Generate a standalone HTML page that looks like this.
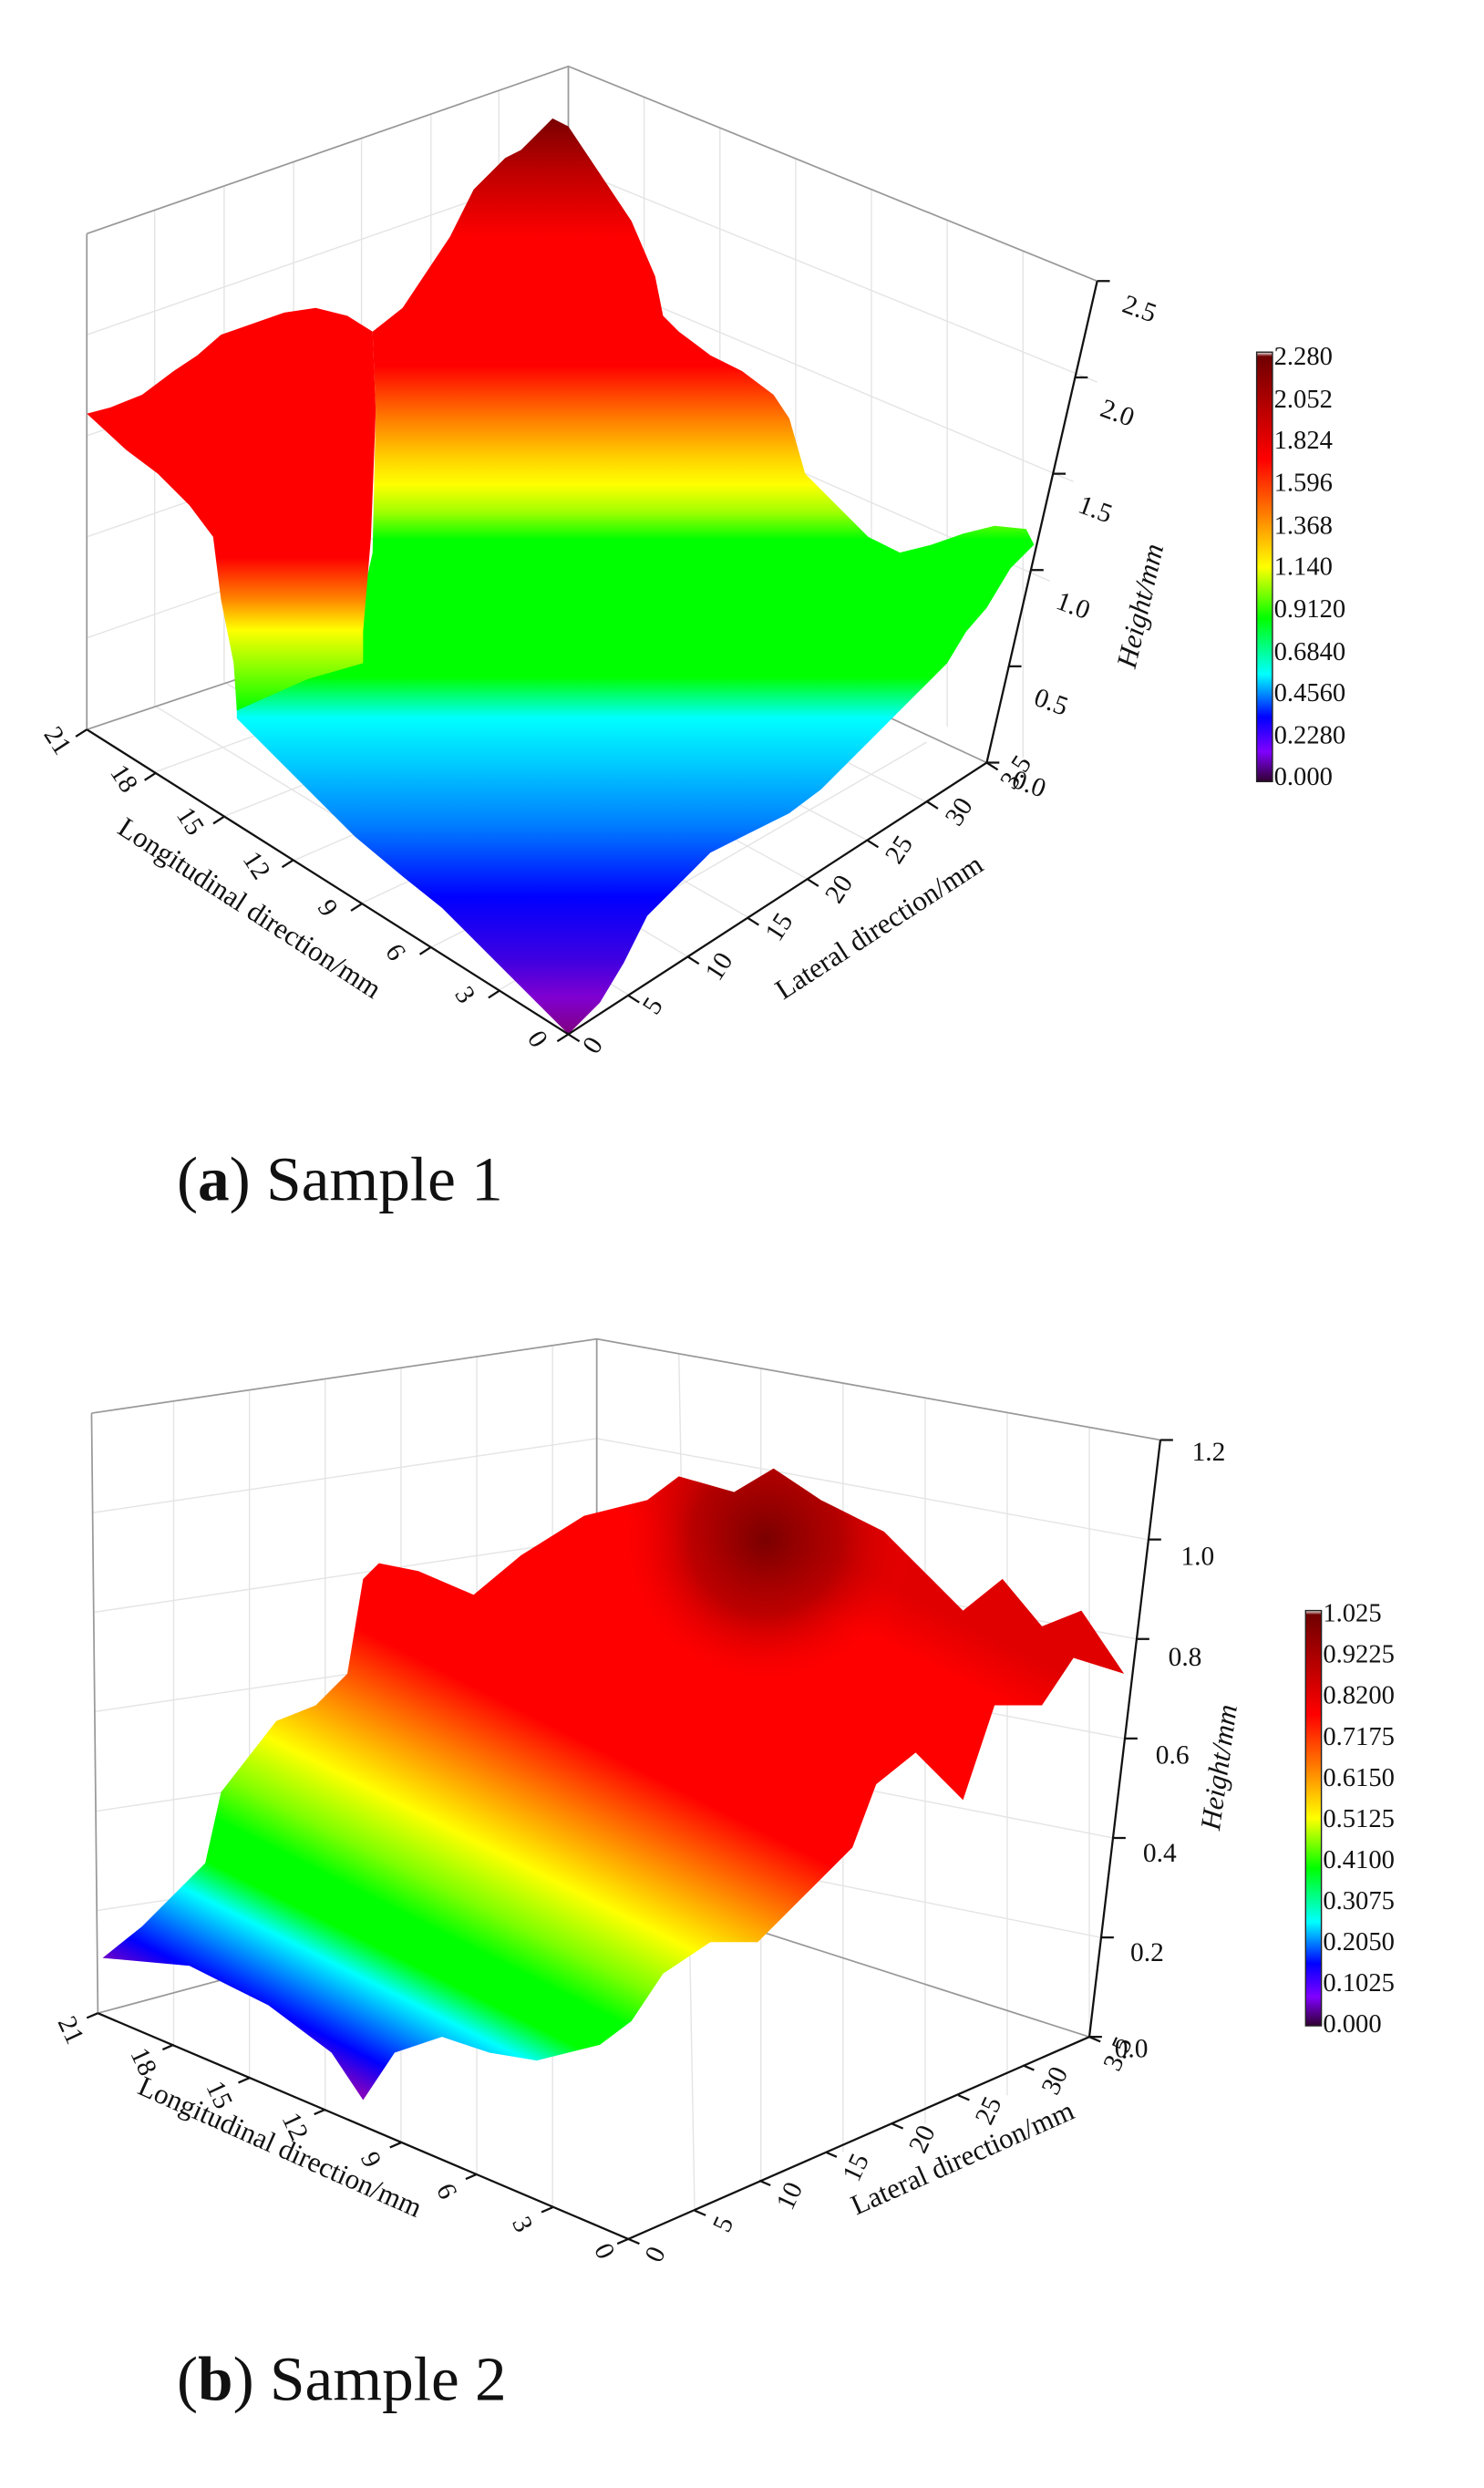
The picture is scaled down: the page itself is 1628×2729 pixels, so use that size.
<!DOCTYPE html>
<html><head><meta charset="utf-8"><style>
html,body{margin:0;padding:0;background:#fff;}
svg{display:block;}
text{font-family:"Liberation Serif",serif;fill:#111;}
</style></head><body>
<svg width="1628" height="2729" viewBox="0 0 940 1575.7" xmlns="http://www.w3.org/2000/svg">
<defs>
<linearGradient id="ga" gradientUnits="userSpaceOnUse" x1="0" y1="75" x2="0" y2="655">
<stop offset="0" stop-color="#7a0000"/><stop offset="0.06" stop-color="#c00000"/><stop offset="0.13" stop-color="#ff0000"/>
<stop offset="0.27" stop-color="#ff0000"/><stop offset="0.33" stop-color="#ff8000"/><stop offset="0.37" stop-color="#ffd000"/>
<stop offset="0.40" stop-color="#ffff00"/><stop offset="0.43" stop-color="#a0ff00"/><stop offset="0.46" stop-color="#00ff00"/>
<stop offset="0.61" stop-color="#00ff00"/><stop offset="0.655" stop-color="#00ffff"/><stop offset="0.70" stop-color="#00d0ff"/>
<stop offset="0.77" stop-color="#0080ff"/><stop offset="0.85" stop-color="#0000ff"/><stop offset="0.92" stop-color="#4000e0"/>
<stop offset="0.96" stop-color="#8000d0"/><stop offset="1" stop-color="#800080"/>
</linearGradient>
<linearGradient id="gl" gradientUnits="userSpaceOnUse" x1="0" y1="195" x2="0" y2="450">
<stop offset="0" stop-color="#ff0000"/><stop offset="0.62" stop-color="#ff0000"/><stop offset="0.72" stop-color="#ff8000"/>
<stop offset="0.8" stop-color="#ffff00"/><stop offset="0.9" stop-color="#80ff00"/><stop offset="1" stop-color="#00ff00"/>
</linearGradient>
<linearGradient id="gb" gradientUnits="userSpaceOnUse" x1="300" y1="872" x2="104" y2="1263">
<stop offset="0" stop-color="#e00000"/><stop offset="0.08" stop-color="#ff0000"/>
<stop offset="0.4" stop-color="#ff0000"/><stop offset="0.5" stop-color="#ff8000"/><stop offset="0.6" stop-color="#ffff00"/>
<stop offset="0.68" stop-color="#80ff00"/><stop offset="0.74" stop-color="#00ff00"/><stop offset="0.8" stop-color="#00ff00"/>
<stop offset="0.85" stop-color="#00ffff"/><stop offset="0.9" stop-color="#0080ff"/><stop offset="0.95" stop-color="#0000ff"/>
<stop offset="1" stop-color="#8000c0"/>
</linearGradient>
<radialGradient id="rb" gradientUnits="userSpaceOnUse" cx="485" cy="975" r="95">
<stop offset="0" stop-color="#7a0000" stop-opacity="1"/><stop offset="0.5" stop-color="#a00000" stop-opacity="0.7"/><stop offset="1" stop-color="#ff0000" stop-opacity="0"/>
</radialGradient>
<clipPath id="cpb"><polygon points="65,1240 90,1220 130,1180 140,1135 175,1090 200,1080 220,1060 230,1000 240,990 265,995 300,1010 330,985 370,960 410,950 430,935 465,945 490,930 520,950 560,970 590,1000 610,1020 635,1000 660,1030 685,1020 712,1060 680,1050 660,1080 630,1080 610,1140 580,1110 555,1130 540,1170 510,1200 480,1230 450,1230 420,1250 400,1280 380,1295 340,1305 310,1300 280,1290 250,1300 230,1330 210,1300 170,1270 120,1245"/></clipPath>
<linearGradient id="cb" x1="0" y1="0" x2="0" y2="1">
<stop offset="0" stop-color="#f0f0f0"/><stop offset="0.01" stop-color="#700000"/><stop offset="0.25" stop-color="#ff0000"/>
<stop offset="0.38" stop-color="#ff8000"/><stop offset="0.5" stop-color="#ffff00"/><stop offset="0.62" stop-color="#00ff00"/>
<stop offset="0.75" stop-color="#00ffff"/><stop offset="0.85" stop-color="#0000ff"/><stop offset="0.93" stop-color="#8000ff"/>
<stop offset="1" stop-color="#300030"/>
</linearGradient>
</defs>

<!-- ===== Plot A ===== -->
<g stroke="#e4e4e4" stroke-width="0.8" fill="none">
<path d="M55,212 L360,106 M55,276 L360,170 M55,340 L360,234 M55,404 L360,298"/>
<path d="M360,106 L695,242 M360,170 L680,305 M360,234 L665,368"/>
<path d="M98,133 L98,447 M142,118 L142,432 M186,103 L186,417 M229,88 L229,402 M273,72 L273,387 M316,57 L316,372"/>
<path d="M408,61 L408,380 M456,81 L456,400 M504,100 L504,420 M552,120 L552,440 M600,139 L600,460 M648,159 L648,480"/>
<path d="M98,489 L398,380 M142,517 L436,400 M186,545 L474,420 M229,572 L512,440 M273,600 L549,460 M316,627 L587,470"/>
<path d="M398,630 L98,447 M436,606 L142,432 M474,581 L186,417 M512,557 L229,402 M549,532 L273,387 M587,508 L316,372"/>
</g>
<g stroke="#999" stroke-width="1" fill="none">
<path d="M55,148 L360,42 L695,178 M55,148 L55,462 M360,42 L360,360 M55,462 L360,360 L625,483"/>
</g>
<polygon fill="url(#ga)" points="236,210 255,195 285,150 300,120 320,100 330,95 340,85 350,75 360,80 380,110 400,140 415,175 420,200 430,210 450,225 470,235 490,250 500,265 510,300 530,320 550,340 570,350 590,345 610,338 630,333 650,335 655,345 640,360 625,385 612,400 600,420 580,440 560,460 540,480 520,500 500,515 470,530 450,540 430,560 410,580 395,610 380,635 360,655 345,640 320,615 300,595 280,575 255,555 225,530 200,505 175,480 150,455 150,420 200,420 225,400 236,350 238,260"/>
<polygon fill="url(#gl)" points="55,262 70,258 90,250 110,235 125,225 140,212 160,205 180,198 200,195 220,200 236,210 238,260 235,340 230,400 230,420 195,430 150,450 148,420 140,380 135,340 120,320 100,300 80,285"/>
<g stroke="#111" stroke-width="1.3" fill="none">
<path d="M55,462 L360,655 L625,483 L695,178"/>
<path d="M55,462 l-7,4.5 M98.6,489.6 l-7,4.5 M142.1,517.1 l-7,4.5 M185.7,544.7 l-7,4.5 M229.3,572.3 l-7,4.5 M272.9,599.9 l-7,4.5 M316.4,627.4 l-7,4.5 M360,655 l-7,4.5"/>
<path d="M360,655 l7,4.5 M397.9,630.4 l7,4.5 M435.7,605.9 l7,4.5 M473.6,581.3 l7,4.5 M511.4,556.7 l7,4.5 M549.3,532.1 l7,4.5 M587.1,507.6 l7,4.5 M625,483 l7,4.5"/>
<path d="M625,483 l8,0 M639,422 l8,0 M653,361 l8,0 M667,300 l8,0 M681,239 l8,0 M695,178 l8,0"/>
</g>
<g font-size="17">
<text transform="translate(32,472) rotate(57)" text-anchor="middle">21</text>
<text transform="translate(74,496) rotate(57)" text-anchor="middle">18</text>
<text transform="translate(116,523) rotate(57)" text-anchor="middle">15</text>
<text transform="translate(158,551) rotate(57)" text-anchor="middle">12</text>
<text transform="translate(203,578) rotate(57)" text-anchor="middle">9</text>
<text transform="translate(246,606) rotate(57)" text-anchor="middle">6</text>
<text transform="translate(290,633) rotate(57)" text-anchor="middle">3</text>
<text transform="translate(336,661) rotate(57)" text-anchor="middle">0</text>
<text transform="translate(380,665) rotate(-57)" text-anchor="middle">0</text>
<text transform="translate(418,640) rotate(-57)" text-anchor="middle">5</text>
<text transform="translate(460,615) rotate(-57)" text-anchor="middle">10</text>
<text transform="translate(498,590) rotate(-57)" text-anchor="middle">15</text>
<text transform="translate(536,566) rotate(-57)" text-anchor="middle">20</text>
<text transform="translate(574,541) rotate(-57)" text-anchor="middle">25</text>
<text transform="translate(612,517) rotate(-57)" text-anchor="middle">30</text>
<text transform="translate(648,492) rotate(-57)" text-anchor="middle">3.5</text>
<text transform="translate(640,498) rotate(20)">0.0</text>
<text transform="translate(654,446) rotate(20)">0.5</text>
<text transform="translate(668,385) rotate(20)">1.0</text>
<text transform="translate(682,324) rotate(20)">1.5</text>
<text transform="translate(696,263) rotate(20)">2.0</text>
<text transform="translate(710,197) rotate(20)">2.5</text>
</g>
<text font-size="18" transform="translate(155,580) rotate(33)" text-anchor="middle">Longitudinal direction/mm</text>
<text font-size="18" transform="translate(560,592) rotate(-33)" text-anchor="middle">Lateral direction/mm</text>
<text font-size="18" font-style="italic" transform="translate(728,385) rotate(-77)" text-anchor="middle">Height/mm</text>
<rect x="796" y="223" width="10" height="272" fill="url(#cb)" stroke="#222" stroke-width="0.8"/>
<g font-size="16.5">
<text x="807" y="231">2.280</text><text x="807" y="258">2.052</text><text x="807" y="284">1.824</text>
<text x="807" y="311">1.596</text><text x="807" y="338">1.368</text><text x="807" y="364">1.140</text>
<text x="807" y="391">0.9120</text><text x="807" y="418">0.6840</text><text x="807" y="444">0.4560</text>
<text x="807" y="471">0.2280</text><text x="807" y="497">0.000</text>
</g>
<text x="112" y="760" font-size="40">(<tspan font-weight="bold">a</tspan>) Sample 1</text>

<!-- ===== Plot B ===== -->
<g stroke="#e4e4e4" stroke-width="0.8" fill="none">
<path d="M59,958 L378,911 M60,1021 L378,974 M60,1084 L378,1037 M61,1147 L378,1100 M61,1210 L378,1163"/>
<path d="M378,911 L727,975 M378,974 L720,1038 M378,1037 L712,1101 M378,1100 L705,1164 M378,1163 L697,1227"/>
<path d="M110,888 L110,1297 M158,881 L158,1317 M206,874 L206,1338 M254,866 L254,1358 M302,859 L302,1378 M350,852 L350,1398"/>
<path d="M430,857 L440,1400 M482,867 L482,1381 M534,876 L534,1363 M586,886 L586,1345 M638,895 L638,1327 M690,904 L690,1290"/>
</g>
<g stroke="#999" stroke-width="1" fill="none">
<path d="M58,895 L378,848 L735,912 M58,895 L62,1275 M378,848 L378,1190 M62,1275 L378,1190 L690,1290"/>
</g>
<polygon fill="url(#gb)" points="65,1240 90,1220 130,1180 140,1135 175,1090 200,1080 220,1060 230,1000 240,990 265,995 300,1010 330,985 370,960 410,950 430,935 465,945 490,930 520,950 560,970 590,1000 610,1020 635,1000 660,1030 685,1020 712,1060 680,1050 660,1080 630,1080 610,1140 580,1110 555,1130 540,1170 510,1200 480,1230 450,1230 420,1250 400,1280 380,1295 340,1305 310,1300 280,1290 250,1300 230,1330 210,1300 170,1270 120,1245"/>
<rect x="380" y="880" width="220" height="200" fill="url(#rb)" clip-path="url(#cpb)"/>
<g stroke="#111" stroke-width="1.3" fill="none">
<path d="M62,1275 L398,1418 L690,1290 L735,912"/>
<path d="M62,1275 l-7,3 M110,1295 l-7,3 M158,1316 l-7,3 M206,1336 l-7,3 M254,1357 l-7,3 M302,1377 l-7,3 M350,1398 l-7,3 M398,1418 l-7,3"/>
<path d="M398,1418 l7,3 M440,1400 l7,3 M481,1381 l7,3 M523,1363 l7,3 M565,1345 l7,3 M607,1327 l7,3 M648,1308 l7,3 M690,1290 l7,3"/>
<path d="M690,1290 l8,0 M697.5,1227 l8,0 M705,1164 l8,0 M712.5,1101 l8,0 M720,1038 l8,0 M727.5,975 l8,0 M735,912 l8,0"/>
</g>
<g font-size="17">
<text transform="translate(40,1288) rotate(65)" text-anchor="middle">21</text>
<text transform="translate(86,1308) rotate(65)" text-anchor="middle">18</text>
<text transform="translate(134,1329) rotate(65)" text-anchor="middle">15</text>
<text transform="translate(182,1349) rotate(65)" text-anchor="middle">12</text>
<text transform="translate(230,1370) rotate(65)" text-anchor="middle">9</text>
<text transform="translate(278,1390) rotate(65)" text-anchor="middle">6</text>
<text transform="translate(326,1411) rotate(65)" text-anchor="middle">3</text>
<text transform="translate(378,1428) rotate(65)" text-anchor="middle">0</text>
<text transform="translate(420,1430) rotate(-65)" text-anchor="middle">0</text>
<text transform="translate(463,1411) rotate(-65)" text-anchor="middle">5</text>
<text transform="translate(505,1393) rotate(-65)" text-anchor="middle">10</text>
<text transform="translate(547,1375) rotate(-65)" text-anchor="middle">15</text>
<text transform="translate(589,1357) rotate(-65)" text-anchor="middle">20</text>
<text transform="translate(631,1339) rotate(-65)" text-anchor="middle">25</text>
<text transform="translate(673,1320) rotate(-65)" text-anchor="middle">30</text>
<text transform="translate(713,1303) rotate(-65)" text-anchor="middle">3.5</text>
<text x="706" y="1303">0.0</text>
<text x="716" y="1242">0.2</text>
<text x="724" y="1179">0.4</text>
<text x="732" y="1117">0.6</text>
<text x="740" y="1055">0.8</text>
<text x="748" y="991">1.0</text>
<text x="755" y="925">1.2</text>
</g>
<text font-size="18" transform="translate(175,1365) rotate(24)" text-anchor="middle">Longitudinal direction/mm</text>
<text font-size="18" transform="translate(612,1372) rotate(-24)" text-anchor="middle">Lateral direction/mm</text>
<text font-size="18" font-style="italic" transform="translate(778,1120) rotate(-82)" text-anchor="middle">Height/mm</text>
<rect x="827" y="1020" width="10" height="263" fill="url(#cb)" stroke="#222" stroke-width="0.8"/>
<g font-size="16.5">
<text x="838" y="1027">1.025</text><text x="838" y="1053">0.9225</text><text x="838" y="1079">0.8200</text>
<text x="838" y="1105">0.7175</text><text x="838" y="1131">0.6150</text><text x="838" y="1157">0.5125</text>
<text x="838" y="1183">0.4100</text><text x="838" y="1209">0.3075</text><text x="838" y="1235">0.2050</text>
<text x="838" y="1261">0.1025</text><text x="838" y="1287">0.000</text>
</g>
<text x="112" y="1520" font-size="40">(<tspan font-weight="bold">b</tspan>) Sample 2</text>
</svg>
</body></html>
